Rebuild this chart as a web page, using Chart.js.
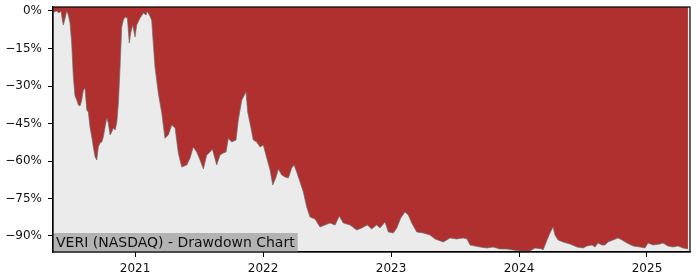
<!DOCTYPE html>
<html>
<head>
<meta charset="utf-8">
<script src="https://cdn.jsdelivr.net/npm/chart.js@4.4.1/dist/chart.umd.min.js"></script>
<style>
html,body{margin:0;padding:0;background:#fff;}
#wrap{width:700px;height:280px;position:relative;}
</style>
</head>
<body>
<div id="wrap"><canvas id="c" width="700" height="280"></canvas></div>
<script>
// Dates as decimal years
const dates = [
2020.361,2020.388,2020.406,2020.422,2020.432,2020.440,2020.453,2020.466,2020.479,2020.492,
2020.505,2020.518,2020.531,2020.545,2020.557,2020.570,2020.584,2020.596,2020.609,2020.623,
2020.635,2020.648,2020.662,2020.674,2020.688,2020.701,2020.713,2020.727,2020.740,2020.752,
2020.766,2020.779,2020.791,2020.805,2020.818,2020.830,2020.844,2020.857,2020.870,2020.883,
2020.896,2020.909,2020.922,2020.940,2020.955,2020.966,2020.982,2021.000,2021.013,2021.039,
2021.065,2021.086,2021.096,2021.112,2021.130,2021.141,2021.156,2021.182,2021.209,2021.234,
2021.260,2021.287,2021.313,2021.338,2021.365,2021.404,2021.430,2021.455,2021.482,2021.508,
2021.534,2021.560,2021.586,2021.604,2021.638,2021.664,2021.690,2021.711,2021.729,2021.755,
2021.789,2021.807,2021.834,2021.867,2021.880,2021.898,2021.924,2021.951,2021.977,2022.002,
2022.029,2022.055,2022.076,2022.102,2022.120,2022.146,2022.172,2022.198,2022.224,2022.242,
2022.263,2022.289,2022.315,2022.341,2022.367,2022.406,2022.445,2022.484,2022.523,2022.563,
2022.596,2022.627,2022.680,2022.732,2022.771,2022.815,2022.849,2022.888,2022.914,2022.953,
2022.979,2023.018,2023.045,2023.076,2023.109,2023.135,2023.162,2023.201,2023.252,2023.305,
2023.344,2023.409,2023.461,2023.513,2023.563,2023.594,2023.617,2023.656,2023.695,2023.750,
2023.797,2023.852,2023.906,2023.953,2024.008,2024.086,2024.125,2024.180,2024.188,2024.219,
2024.242,2024.266,2024.281,2024.305,2024.344,2024.398,2024.453,2024.500,2024.531,2024.570,
2024.594,2024.617,2024.648,2024.672,2024.695,2024.734,2024.773,2024.805,2024.844,2024.891,
2024.945,2024.984,2025.008,2025.047,2025.102,2025.125,2025.164,2025.203,2025.242,2025.281,
2025.320
];
// Drawdown in percent
const drawdown = [
-0.5,0,-0.8,0,-3.6,-5.6,-3,0,-1.6,-4.8,
-12.8,-26.4,-34,-35.6,-37.6,-38,-35.6,-31.6,-31,-39.6,
-40.4,-46.4,-50.4,-54.4,-58.4,-59.6,-54.4,-52.8,-52.4,-50.4,
-46.4,-42.8,-44.8,-49.6,-48.4,-46.8,-47.6,-44.8,-36.8,-22.4,
-6.4,-3.6,-2.4,-2.8,-12.8,-8.8,-5.6,-10.4,-5.6,-2.8,
-0.8,-1.6,-0.2,-1.6,-3.6,-12,-22.4,-32.9,-40.9,-50.9,
-49.6,-45.6,-46.8,-56.8,-62.4,-61.6,-58.8,-54.4,-56.4,-59.6,
-63.2,-57.6,-56.4,-55.2,-61.6,-57.6,-56.8,-56.4,-50.9,-52.4,
-51.6,-43.6,-35.6,-32.4,-40.4,-44.8,-51.6,-52.4,-54.4,-53.6,
-58.8,-63.6,-69.6,-66.4,-63.2,-65.6,-66.4,-66.8,-62.8,-61.6,
-64.4,-68.4,-72.4,-78.4,-82.4,-83.2,-86.4,-85.6,-84.8,-85.6,
-82,-84.8,-85.6,-87.6,-86.8,-85.6,-87.2,-85.6,-86.8,-84.4,
-88.4,-88.8,-86.8,-82.8,-80.4,-81.6,-84.8,-88.4,-88.8,-89.6,
-91.2,-92.4,-90.8,-91.2,-90.8,-91.2,-93.6,-94,-94.4,-94.8,
-94.4,-95.2,-95.2,-95.6,-96,-96,-94.8,-95.2,-95.6,-91.6,
-88.8,-86.4,-89.6,-91.6,-92.4,-93.2,-94.4,-94.8,-94,-93.6,
-94.4,-92.8,-93.6,-93.6,-92.4,-91.6,-90.8,-91.6,-92.8,-94,
-94.4,-94.8,-92.8,-93.6,-93.2,-92.8,-94,-94.4,-94,-94.8,
-95.2
];
const yTicks = [0,-15,-30,-45,-60,-75,-90];
const yTickLabels = ['0%','\u221215%','\u221230%','\u221245%','\u221260%','\u221275%','\u221290%'];
const xTicks = [2021,2022,2023,2024,2025];
const xTickLabels = ['2021','2022','2023','2024','2025'];
const titleText = 'VERI (NASDAQ) - Drawdown Chart';

const FONT = "'DejaVu Sans', sans-serif";

const decor = {
  id:'decor',
  beforeDraw(chart){
    const {ctx, chartArea:a} = chart;
    ctx.save();
    ctx.fillStyle = '#ebebeb';
    ctx.fillRect(a.left, a.top, a.right-a.left, a.bottom-a.top);
    ctx.restore();
  },
  afterDraw(chart){
    const {ctx, chartArea:a} = chart;
    ctx.save();
    ctx.font = "14px " + FONT;
    const w = ctx.measureText(titleText).width;
    ctx.fillStyle = '#b3b3b3';
    ctx.fillRect(a.left, a.bottom-19, w+6, 19);
    ctx.fillStyle = '#111';
    ctx.textBaseline = 'middle';
    ctx.textAlign = 'left';
    ctx.fillText(titleText, a.left+3, a.bottom-9);
    ctx.strokeStyle = '#000';
    ctx.lineWidth = 1.2;
    ctx.strokeRect(a.left, a.top, a.right-a.left, a.bottom-a.top);
    ctx.restore();
  }
};

new Chart(document.getElementById('c'), {
  type:'line',
  data:{
    datasets:[{
      data: dates.map((d,i)=>({x:d, y:drawdown[i]})),
      fill:'end',
      backgroundColor:'#b03030',
      borderColor:'rgba(110,110,110,0.7)',
      borderWidth:1,
      pointRadius:0,
      tension:0
    }]
  },
  options:{
    responsive:false,
    animation:false,
    layout:{padding:{top:7,right:10,left:0,bottom:0}},
    plugins:{legend:{display:false},tooltip:{enabled:false}},
    scales:{
      x:{
        type:'linear',
        min:2020.359, max:2025.336,
        afterFit(s){ s.height = 28; s.paddingLeft = 0; s.paddingRight = 0; },
        afterBuildTicks(s){ s.ticks = xTicks.map(v=>({value:v})); },
        grid:{display:true, drawOnChartArea:false, tickLength:5, color:'#000', tickColor:'#000'},
        border:{display:true, color:'#000', width:1.2},
        ticks:{
          autoSkip:false, maxRotation:0, padding:5,
          color:'#111', font:{family:FONT, size:12},
          callback(v){ const i = xTicks.indexOf(v); return i>=0 ? xTickLabels[i] : ''; }
        }
      },
      y:{
        min:-96.4, max:1.6,
        afterFit(s){ s.width = 53; s.paddingTop = 0; s.paddingBottom = 0; },
        afterBuildTicks(s){ s.ticks = yTicks.map(v=>({value:v})); },
        grid:{display:true, drawOnChartArea:false, tickLength:5, color:'#000', tickColor:'#000'},
        border:{display:true, color:'#000', width:1.2},
        ticks:{
          autoSkip:false, padding:6,
          color:'#111', font:{family:FONT, size:12},
          callback(v){ const i = yTicks.indexOf(v); return i>=0 ? yTickLabels[i] : ''; }
        }
      }
    }
  },
  plugins:[decor]
});
</script>
</body>
</html>
